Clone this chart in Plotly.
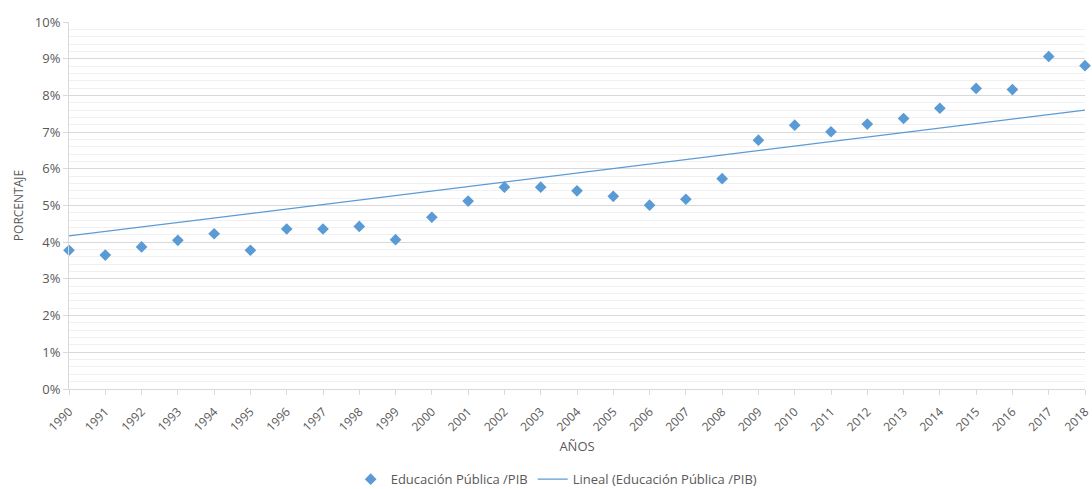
import plotly.graph_objects as go

years = list(range(1990, 2019))
values = [3.78, 3.65, 3.87, 4.05, 4.23, 3.78, 4.36, 4.36, 4.43, 4.07,
          4.68, 5.12, 5.50, 5.50, 5.40, 5.25, 5.01, 5.17, 5.73, 6.78,
          7.19, 7.01, 7.22, 7.37, 7.65, 8.19, 8.16, 9.06, 8.81]
# Linear trend line as drawn in the original (start and end values)
trend_years = [1990, 2018]
trend_values = [4.17, 7.60]
y_ticks = list(range(0, 11))
y_labels = [f"{v}%" for v in y_ticks]

blue = "#5b9bd5"
txt = "#595959"
font_family = "Open Sans, Liberation Sans, Arial, sans-serif"

fig = go.Figure()
fig.add_trace(go.Scatter(
    x=years, y=values, mode="markers", name="Educación Pública /PIB",
    marker=dict(symbol="diamond", size=9, color=blue),
    cliponaxis=False,
))
fig.add_trace(go.Scatter(
    x=trend_years, y=trend_values, mode="lines", name="Lineal (Educación Pública /PIB)",
    line=dict(color=blue, width=1.2),
))

fig.update_layout(
    width=1092, height=489,
    margin=dict(l=69, r=7, t=22, b=100, autoexpand=False),
    paper_bgcolor="white", plot_bgcolor="white",
    font=dict(family=font_family, size=12, color=txt),
    showlegend=True,
    legend=dict(orientation="h", x=0.48, xanchor="center", y=-0.205, yanchor="top",
                font=dict(size=13, color=txt), traceorder="normal",
                itemwidth=30),
    xaxis=dict(
        range=[1989.9999, 2018.0001], tickmode="array", tickvals=years,
        ticktext=[str(y) for y in years], tickangle=-45,
        showgrid=False, showline=True, linecolor="#d9d9d9", linewidth=1,
        ticks="outside", ticklen=5, tickcolor="#d9d9d9",
        tickfont=dict(size=12, color=txt),
        ticklabelstandoff=5, ticklabeloverflow="allow",
        title=dict(text="AÑOS", font=dict(size=13, color=txt), standoff=8),
        zeroline=False, automargin=False,
    ),
    yaxis=dict(
        range=[0, 10], tickmode="array", tickvals=y_ticks, ticktext=y_labels,
        showgrid=True, gridcolor="#d9d9d9", gridwidth=1,
        minor=dict(dtick=0.2, showgrid=True, gridcolor="#f0f0f0", gridwidth=1),
        showline=True, linecolor="#d9d9d9", linewidth=1,
        ticks="outside", ticklen=5, tickcolor="#d9d9d9",
        tickfont=dict(size=13, color=txt),
        title=dict(text="PORCENTAJE", font=dict(size=12, color=txt), standoff=8),
        zeroline=False, automargin=False,
    ),
)

fig.write_html("out.html", config={"displayModeBar": False})

# remove the default page margin so the figure fills the window exactly
with open("out.html", "r", encoding="utf-8") as f:
    html = f.read()
html = html.replace("<head>", "<head><style>html,body{margin:0;padding:0;overflow:hidden;}</style>", 1)
with open("out.html", "w", encoding="utf-8") as f:
    f.write(html)
